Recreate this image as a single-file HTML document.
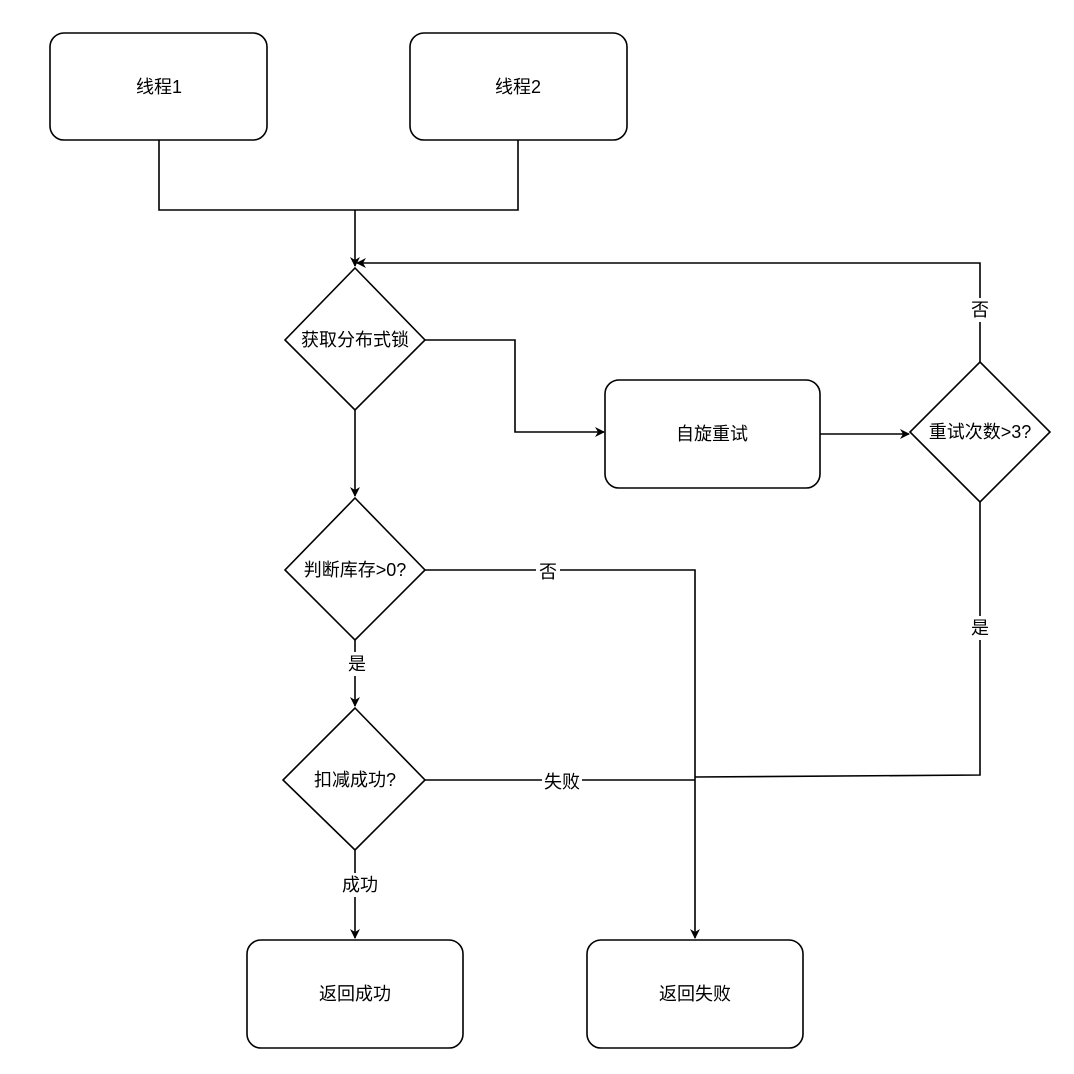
<!DOCTYPE html>
<html><head><meta charset="utf-8"><style>
html,body{margin:0;padding:0;background:#fff;}
svg{display:block;}
text{font-family:"Liberation Sans","Noto Sans CJK SC",sans-serif;font-size:18px;fill:#000;text-anchor:middle;dominant-baseline:central;}
</style></head><body>
<svg width="1074" height="1074" viewBox="0 0 1074 1074" xmlns="http://www.w3.org/2000/svg">
<defs><marker id="a" markerWidth="10" markerHeight="10" refX="9" refY="5" orient="auto" markerUnits="userSpaceOnUse"><path d="M0,0 L10,5 L0,10 L3,5 z" fill="#000"/></marker></defs>
<g fill="none" stroke="#000" stroke-width="1.6">
<rect x="50" y="33" width="217" height="107" rx="14"/>
<rect x="410" y="33" width="217" height="107" rx="14"/>
<rect x="605" y="380" width="215" height="108" rx="14"/>
<rect x="247" y="940" width="216" height="108" rx="14"/>
<rect x="587" y="940" width="216" height="108" rx="14"/>
<polygon points="355,268 425,340 355,410 285,340"/>
<polygon points="980,362 1050,432 980,502 910,432"/>
<polygon points="355,498 425,570 355,640 285,570"/>
<polygon points="355,708 425,780 355,850 283,780"/>
<polyline points="159,140 159,210 518,210 518,140"/>
<polyline points="355,210 355,266" marker-end="url(#a)"/>
<polyline points="980,362 980,263 357,263" marker-end="url(#a)"/>
<polyline points="425,340 515,340 515,432 604,432" marker-end="url(#a)"/>
<polyline points="820,434 909,434" marker-end="url(#a)"/>
<polyline points="980,502 980,775 695,777"/>
<polyline points="355,410 355,496" marker-end="url(#a)"/>
<polyline points="425,570 695,570 695,938" marker-end="url(#a)"/>
<polyline points="355,640 355,706" marker-end="url(#a)"/>
<polyline points="425,780 695,780"/>
<polyline points="355,850 355,938" marker-end="url(#a)"/>
</g>
<g>
<text x="159" y="87">线程1</text>
<text x="518" y="87">线程2</text>
<text x="355" y="340">获取分布式锁</text>
<text x="712" y="434">自旋重试</text>
<text x="980" y="432">重试次数&gt;3?</text>
<rect x="968" y="298" width="24" height="24" fill="#fff"/><text x="980" y="310">否</text>
<rect x="968" y="616" width="24" height="24" fill="#fff"/><text x="980" y="628">是</text>
<text x="355" y="570">判断库存&gt;0?</text>
<rect x="536" y="560" width="24" height="24" fill="#fff"/><text x="548" y="572">否</text>
<rect x="345" y="652" width="24" height="24" fill="#fff"/><text x="357" y="664">是</text>
<text x="355" y="780">扣减成功?</text>
<rect x="542" y="770" width="40" height="24" fill="#fff"/><text x="562" y="782">失败</text>
<rect x="340" y="873" width="40" height="24" fill="#fff"/><text x="360" y="885">成功</text>
<text x="355" y="994">返回成功</text>
<text x="695" y="994">返回失败</text>
</g>
</svg>
</body></html>
